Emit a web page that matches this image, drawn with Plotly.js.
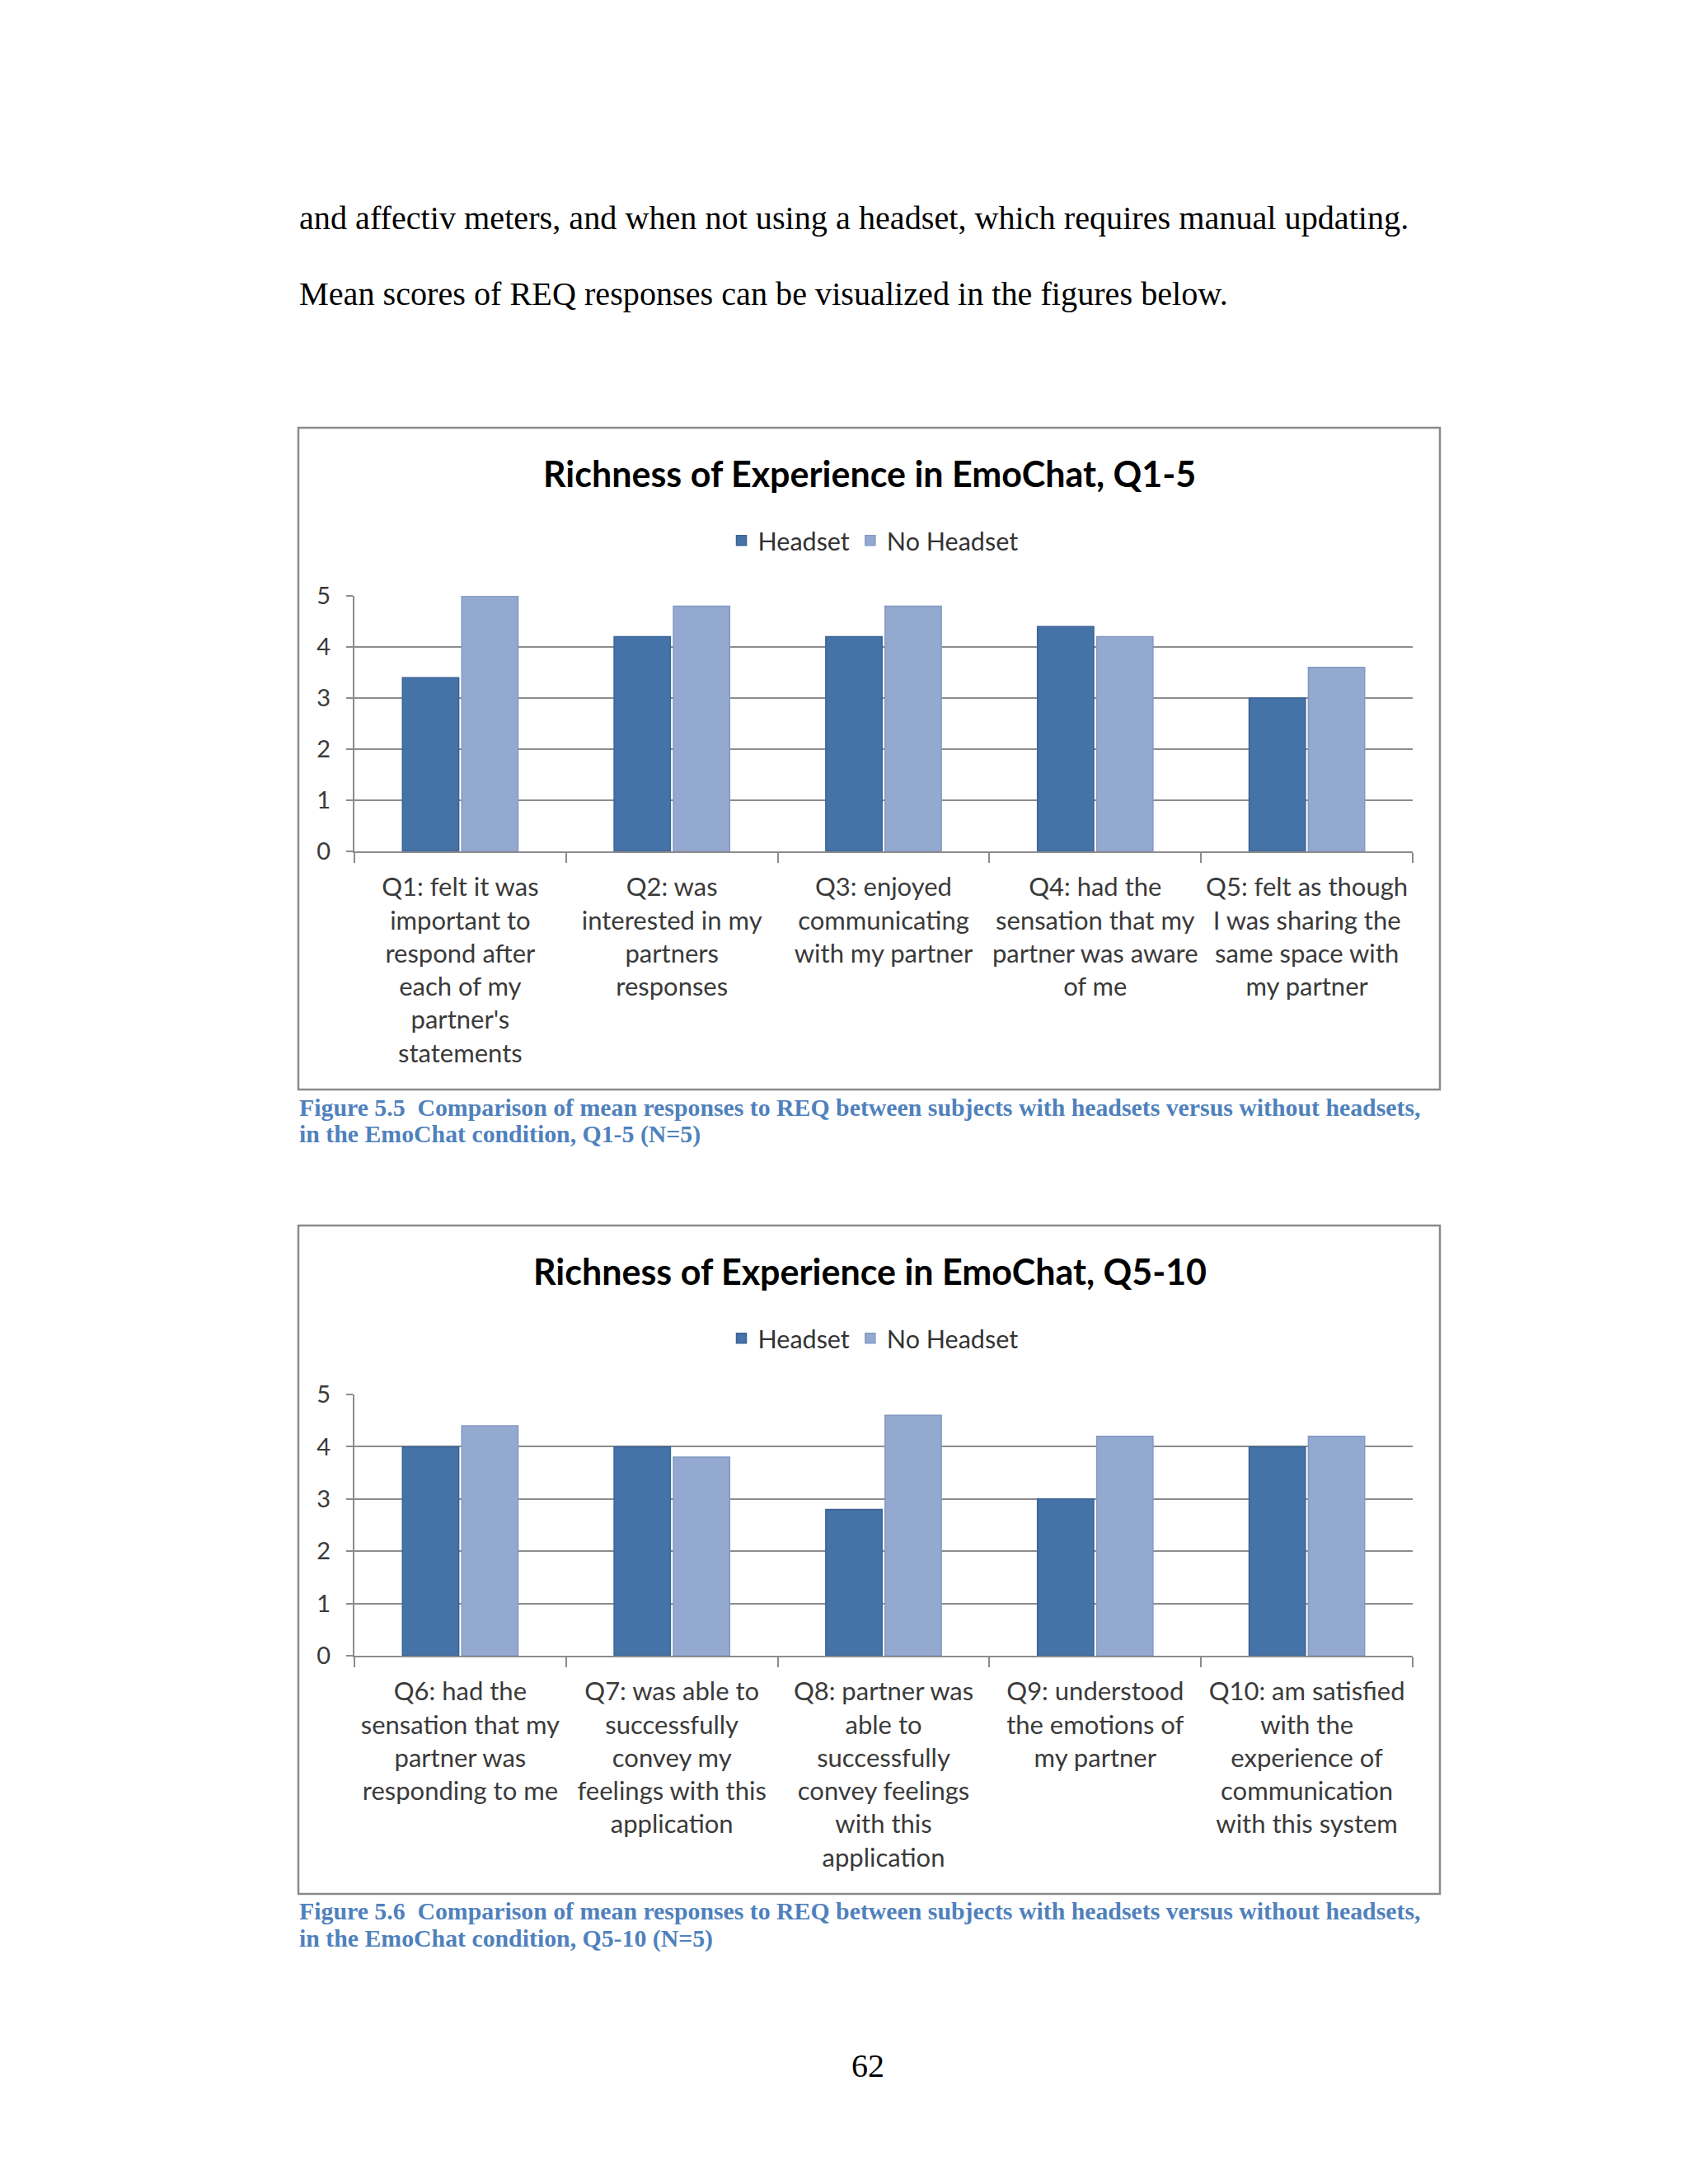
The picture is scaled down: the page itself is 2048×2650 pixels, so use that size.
<!DOCTYPE html>
<html>
<head>
<meta charset="utf-8">
<script src="https://cdn.plot.ly/plotly-3.0.1.min.js"></script>
<style>
  html, body { margin: 0; padding: 0; background: #ffffff; }
  #page { width: 2048px; height: 2650px; }
</style>
</head>
<body>
<div id="page"></div>
<script>
// ---------- data ----------
const seriesNames = ["Headset", "No Headset"];

const categories1 = ["Q1", "Q2", "Q3", "Q4", "Q5"];
const tickLabels1 = [
  "Q1: felt it was<br>important to<br>respond after<br>each of my<br>partner's<br>statements",
  "Q2: was<br>interested in my<br>partners<br>responses",
  "Q3: enjoyed<br>communicating<br>with my partner",
  "Q4: had the<br>sensation that my<br>partner was aware<br>of me",
  "Q5: felt as though<br>I was sharing the<br>same space with<br>my partner"
];
const headset1   = [3.4, 4.2, 4.2, 4.4, 3.0];
const noHeadset1 = [5.0, 4.8, 4.8, 4.2, 3.6];

const categories2 = ["Q6", "Q7", "Q8", "Q9", "Q10"];
const tickLabels2 = [
  "Q6: had the<br>sensation that my<br>partner was<br>responding to me",
  "Q7: was able to<br>successfully<br>convey my<br>feelings with this<br>application",
  "Q8: partner was<br>able to<br>successfully<br>convey feelings<br>with this<br>application",
  "Q9: understood<br>the emotions of<br>my partner",
  "Q10: am satisfied<br>with the<br>experience of<br>communication<br>with this system"
];
const headset2   = [4.0, 4.0, 2.8, 3.0, 4.0];
const noHeadset2 = [4.4, 3.8, 4.6, 4.2, 4.2];

const yTicks = [0, 1, 2, 3, 4, 5];

const title1 = "Richness of Experience in EmoChat, Q1-5";
const title2 = "Richness of Experience in EmoChat, Q5-10";
const bodyLines = [
  "and affectiv meters, and when not using a headset, which requires manual updating.",
  "Mean scores of REQ responses can be visualized in the figures below."
];
const caption1 = [
  "Figure 5.5  Comparison of mean responses to REQ between subjects with headsets versus without headsets,",
  "in the EmoChat condition, Q1-5 (N=5)"
];
const caption2 = [
  "Figure 5.6  Comparison of mean responses to REQ between subjects with headsets versus without headsets,",
  "in the EmoChat condition, Q5-10 (N=5)"
];
const pageNumber = "62";

// ---------- layout helpers ----------
const W = 2048, H = 2650;
const px = x => x / W;
const py = y => 1 - y / H;

const darkBlue = "#4572A7";
const lightBlue = "#93A9CF";
const gridGray = "#8c8c8c";
const labelFont = "Lato, 'Noto Sans', sans-serif";

function bar(x, y, name, color, lineColor, xa, ya, legend, show) {
  return {
    type: "bar", x: x, y: y, name: name,
    xaxis: xa, yaxis: ya, legend: legend, showlegend: show,
    marker: { color: color, line: { color: lineColor, width: 1.5 } },
    hoverinfo: "skip"
  };
}

const traces = [
  bar(categories1, headset1,   seriesNames[0], darkBlue,  "#3a6395", "x",  "y",  "legend",  true),
  bar(categories1, noHeadset1, seriesNames[1], lightBlue, "#8499c2", "x",  "y",  "legend",  true),
  bar(categories2, headset2,   seriesNames[0], darkBlue,  "#3a6395", "x2", "y2", "legend2", true),
  bar(categories2, noHeadset2, seriesNames[1], lightBlue, "#8499c2", "x2", "y2", "legend2", true)
];

function xAxis(domain, anchor, cats, labels) {
  return {
    domain: domain, anchor: anchor, type: "category",
    tickmode: "array", tickvals: cats, ticktext: labels, tickangle: 0,
    ticks: "outside", tickson: "boundaries", ticklen: 12, tickwidth: 2, tickcolor: gridGray,
    showline: true, linecolor: gridGray, linewidth: 2,
    showgrid: false, zeroline: false,
    tickfont: { family: labelFont, size: 31, color: "#3a3a3a" },
    ticklabelstandoff: 15,
    fixedrange: true
  };
}
function yAxis(domain, anchor) {
  return {
    domain: domain, anchor: anchor, range: [0, 5],
    tickmode: "array", tickvals: yTicks,
    ticks: "outside", ticklen: 8, tickwidth: 2, tickcolor: gridGray,
    showline: true, linecolor: gridGray, linewidth: 2,
    showgrid: true, gridcolor: gridGray, gridwidth: 2,
    zeroline: false,
    tickfont: { family: labelFont, size: 29, color: "#3a3a3a" },
    ticklabelstandoff: 13,
    fixedrange: true
  };
}

const annotations = [];
function txt(text, x, y, opts) {
  annotations.push(Object.assign({
    text: text, x: px(x), y: py(y), xref: "paper", yref: "paper",
    showarrow: false, xanchor: "left", yanchor: "middle"
  }, opts));
}
const serif = "'Liberation Serif', 'Times New Roman', serif";
txt(bodyLines[0], 361, 265, { font: { family: serif, size: 40.2, color: "#000" } });
txt(bodyLines[1], 361, 356, { font: { family: serif, size: 40.2, color: "#000" } });

const titleFont = { family: labelFont, size: 43, color: "#000", weight: 700 };
txt(title1, 1055, 574, { xanchor: "center", font: titleFont });
txt(title2, 1055, 1542, { xanchor: "center", font: titleFont });

const capFont = { family: serif, size: 29.8, color: "#4F81BD", weight: 700 };
txt("<b>" + caption1[0] + "</b>", 361, 1343, { font: capFont });
txt("<b>" + caption1[1] + "</b>", 361, 1376, { font: capFont });
txt("<b>" + caption2[0] + "</b>", 361, 2318, { font: capFont });
txt("<b>" + caption2[1] + "</b>", 361, 2352, { font: capFont });

txt(pageNumber, 1053, 2506, { xanchor: "center", font: { family: serif, size: 40, color: "#000" } });

const boxLine = { color: "#8a8a8a", width: 2.5 };
const shapes = [
  { type: "rect", xref: "paper", yref: "paper", x0: px(362), x1: px(1747), y0: py(1322), y1: py(519), line: boxLine, layer: "below" },
  { type: "rect", xref: "paper", yref: "paper", x0: px(362), x1: px(1747), y0: py(2298), y1: py(1487), line: boxLine, layer: "below" }
];

const legendFont = { family: labelFont, size: 30.5, color: "#333" };
function legendAt(yCenter) {
  return { orientation: "h", x: px(1060), xanchor: "center", y: py(yCenter), yanchor: "middle",
           font: legendFont, bgcolor: "rgba(0,0,0,0)", itemwidth: 30, tracegroupgap: 0 };
}
const layout = {
  width: W, height: H, autosize: false,
  margin: { l: 0, r: 0, t: 0, b: 0, pad: 0 },
  paper_bgcolor: "#ffffff", plot_bgcolor: "#ffffff",
  barmode: "group", bargap: 0.44, bargroupgap: 0.05,
  xaxis:  xAxis([px(430), px(1714)], "y",  categories1, tickLabels1),
  yaxis:  yAxis([py(1033), py(723)], "x"),
  xaxis2: xAxis([px(430), px(1714)], "y2", categories2, tickLabels2),
  yaxis2: yAxis([py(2009), py(1692)], "x2"),
  legend:  legendAt(656),
  legend2: legendAt(1624),
  annotations: annotations,
  shapes: shapes,
  showlegend: true
};

Plotly.newPlot("page", traces, layout, { displayModeBar: false, staticPlot: true });
</script>
</body>
</html>
